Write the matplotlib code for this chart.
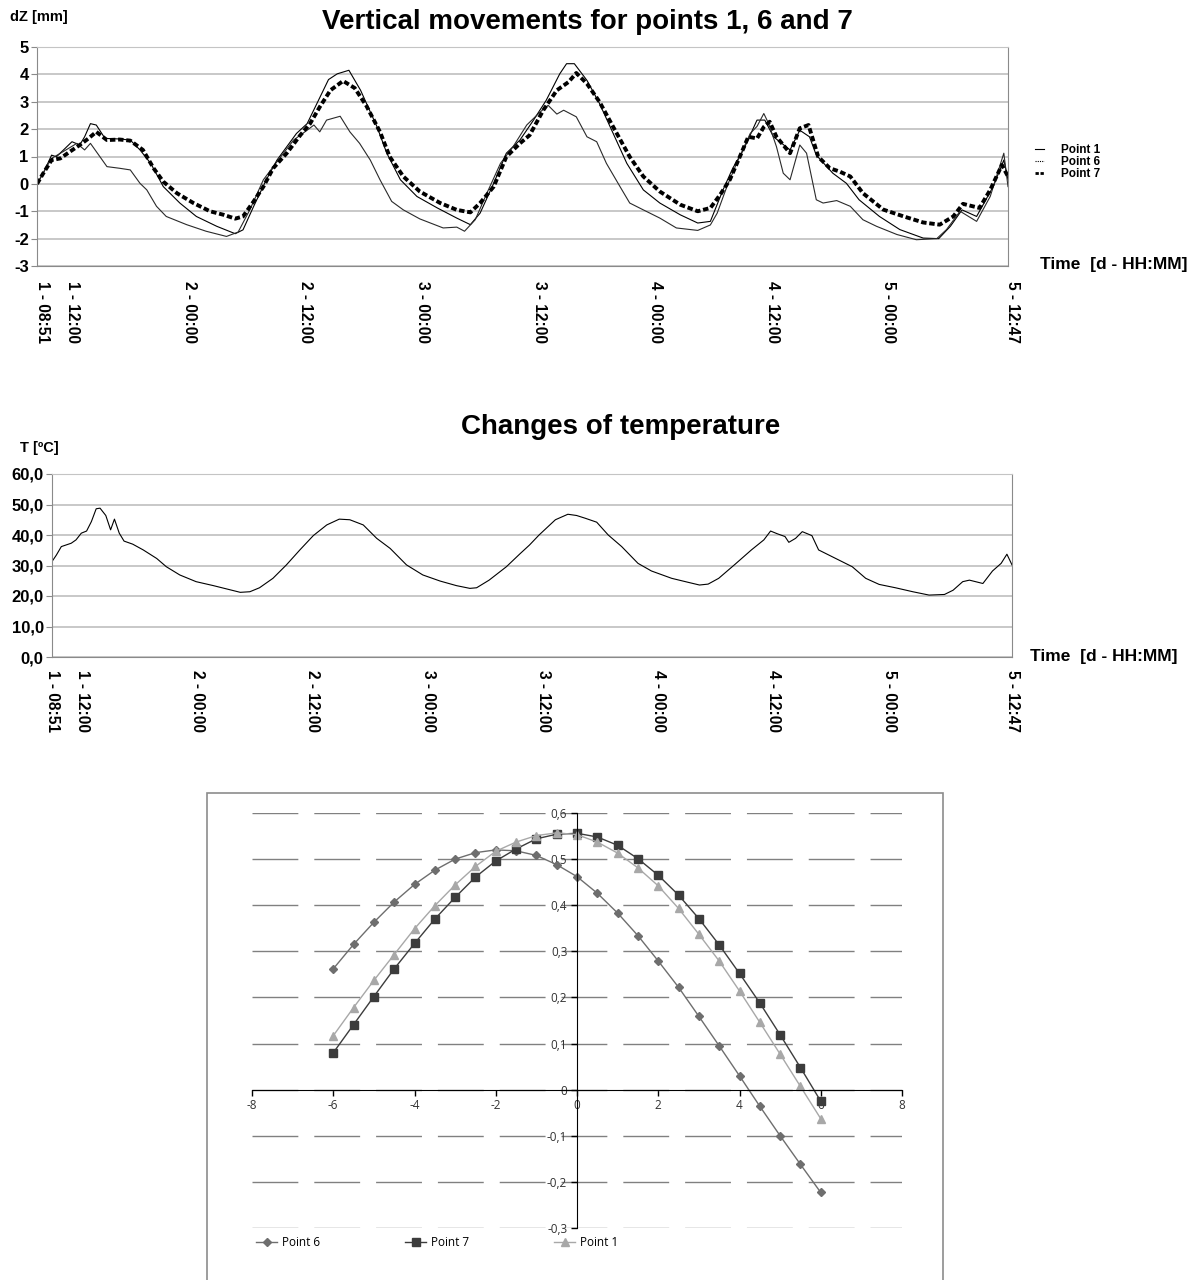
import matplotlib
matplotlib.use("Agg")
import matplotlib.pyplot as plt
from matplotlib.patches import Rectangle
from matplotlib.lines import Line2D
from matplotlib.transforms import ScaledTranslation

# ---- data: vertical movements (hours since 1 - 08:51, dZ in mm) ----
p1_t = [0, 0.65, 1.5, 2.0, 3.6, 4.4, 4.9, 5.5, 6.1, 7.0, 8.5, 9.6, 10.6, 11.7, 13.0, 14.7, 16.4, 18.5,
        20.4, 21.2, 22.3, 23.6, 24.7, 26.7, 27.8, 28.8, 30.0, 30.9, 32.1, 33.3, 34.3, 35.0, 36.0, 37.4,
        39.1, 41.2, 43.2, 44.6, 45.6, 47.0, 48.3, 49.7, 51.1, 52.4, 53.8, 54.5, 55.3, 56.6, 57.9, 59.3,
        60.7, 62.4, 64.1, 66.2, 68.0, 69.3, 70.6, 71.6, 72.7, 74.1, 74.9, 75.8, 77.5, 78.5, 79.5, 80.2,
        81.9, 83.3, 84.6, 86.7, 88.8, 91.2, 92.8, 94.0, 95.2, 96.7, 98.4, 99.5, 99.93]
p1_dz = [0, 0.39, 1.05, 0.99, 1.54, 1.42, 1.72, 2.2, 2.15, 1.66, 1.64, 1.6, 1.24, 0.75, -0.1, -0.7, -1.19, -1.55,
         -1.82, -1.68, -0.82, 0.15, 0.87, 1.84, 2.2, 2.93, 3.81, 4.02, 4.15, 3.42, 2.63, 2.08, 1.12, 0.15,
         -0.46, -0.88, -1.25, -1.49, -1.07, 0.02, 1.12, 1.6, 2.33, 3.05, 4.02, 4.39, 4.39, 3.78, 2.93, 1.84,
         0.75, -0.22, -0.7, -1.13, -1.43, -1.37, -0.22, 0.57, 1.24, 2.33, 2.33, 1.72, 1.24, 1.96, 1.72, 1.05,
         0.39, 0.02, -0.58, -1.19, -1.67, -1.98, -2.0, -1.55, -0.95, -1.19, -0.1, 0.87, 0.15]

p6_t = [0, 0.65, 1.5, 2.7, 4.1, 4.9, 5.5, 6.1, 7.2, 8.5, 9.6, 10.6, 11.3, 12.3, 13.3, 15.4, 17.4, 19.5,
        20.7, 21.9, 23.3, 24.7, 26.4, 27.8, 28.5, 29.1, 29.8, 31.2, 32.2, 33.2, 34.3, 35.3, 36.5, 37.7,
        39.4, 41.8, 43.2, 44.0, 45.1, 46.3, 47.7, 49.0, 50.4, 51.8, 52.6, 53.5, 54.2, 55.5, 56.6, 57.6,
        58.6, 60.0, 61.0, 62.4, 64.1, 65.8, 68.0, 69.3, 70.0, 71.0, 72.0, 73.4, 74.1, 74.8, 75.3, 76.1,
        76.8, 77.5, 78.5, 79.2, 80.2, 80.9, 82.3, 83.7, 85.0, 86.4, 88.5, 90.5, 92.6, 93.6, 95.0, 96.7,
        98.1, 99.5, 99.93]
p6_dz = [0, 0.41, 0.93, 1.18, 1.48, 1.24, 1.48, 1.18, 0.63, 0.57, 0.51, 0.02, -0.22, -0.82, -1.19, -1.49, -1.73, -1.92,
         -1.76, -0.95, 0.15, 0.81, 1.6, 1.96, 2.15, 1.9, 2.33, 2.47, 1.9, 1.48, 0.87, 0.15, -0.64, -0.95,
         -1.28, -1.61, -1.58, -1.73, -1.31, -0.34, 0.75, 1.36, 2.15, 2.63, 2.87, 2.55, 2.69, 2.45, 1.72, 1.54,
         0.75, -0.1, -0.7, -0.95, -1.25, -1.61, -1.7, -1.5, -1.07, -0.1, 0.75, 1.84, 2.1, 2.57, 2.2, 1.36,
         0.39, 0.15, 1.42, 1.12, -0.58, -0.7, -0.61, -0.82, -1.31, -1.55, -1.85, -2.04, -2.0, -1.67, -1.0, -1.37,
         -0.46, 1.12, -0.1]

p7_t = [0, 0.65, 1.5, 2.4, 3.4, 4.4, 5.3, 6.1, 7.2, 8.5, 9.6, 10.9, 12.0, 13.0, 14.4, 16.1, 17.8, 19.2,
        20.4, 21.2, 22.3, 23.3, 24.3, 25.7, 27.1, 28.1, 29.1, 30.2, 31.5, 32.7, 33.9, 35.3, 36.3, 37.7,
        39.4, 41.5, 43.2, 44.6, 45.6, 47.0, 48.3, 49.7, 50.7, 52.1, 53.5, 54.7, 55.5, 56.6, 57.9, 59.3,
        61.0, 62.4, 64.1, 66.2, 68.0, 69.3, 70.3, 71.3, 72.4, 73.2, 74.1, 74.8, 75.4, 76.1, 77.5, 78.5,
        79.4, 80.4, 81.6, 82.6, 83.7, 85.0, 87.1, 89.2, 91.2, 92.9, 94.3, 95.3, 97.0, 98.1, 99.3, 99.93]
p7_dz = [0, 0.39, 0.87, 0.93, 1.18, 1.42, 1.66, 1.9, 1.6, 1.62, 1.58, 1.24, 0.57, 0.08, -0.34, -0.7, -1.0, -1.13,
         -1.27, -1.19, -0.64, -0.1, 0.57, 1.12, 1.78, 2.2, 2.81, 3.42, 3.76, 3.5, 2.85, 1.9, 0.99, 0.27,
         -0.28, -0.7, -0.95, -1.04, -0.7, -0.1, 0.99, 1.48, 1.78, 2.69, 3.42, 3.72, 4.05, 3.66, 2.99, 2.08,
         0.99, 0.27, -0.28, -0.76, -1.0, -0.88, -0.4, 0.15, 1.05, 1.72, 1.66, 2.08, 2.27, 1.72, 1.12, 2.03,
         2.15, 0.99, 0.57, 0.45, 0.27, -0.34, -0.94, -1.19, -1.41, -1.49, -1.19, -0.73, -0.88, -0.22, 0.69, 0.27]

# ---- data: temperature ----
temp_t = [0, 0.45, 0.97, 2.0, 2.5, 3.05, 3.6, 4.1, 4.6, 5.0, 5.6, 6.1, 6.5, 7.0, 7.5, 8.4, 9.5, 10.9,
          11.9, 13.3, 15.0, 16.8, 18.2, 19.6, 20.6, 21.6, 23.0, 24.4, 25.8, 27.2, 28.6, 29.9, 31.0, 32.4,
          33.8, 35.2, 36.9, 38.6, 40.4, 42.1, 43.5, 44.2, 45.5, 47.3, 48.7, 49.7, 50.7, 52.4, 53.7, 54.6,
          55.5, 56.7, 57.9, 59.3, 61.0, 62.4, 64.5, 66.2, 67.4, 68.3, 69.4, 71.1, 72.8, 74.1, 74.8, 75.5,
          76.3, 76.7, 77.4, 78.1, 79.1, 79.8, 81.2, 83.3, 84.7, 86.1, 87.8, 89.6, 91.3, 92.9, 93.8, 94.8,
          95.5, 96.9, 97.9, 98.8, 99.4, 99.93]
temp_c = [31.3, 33.4, 36.2, 37.3, 38.4, 40.6, 41.3, 44.4, 48.6, 48.8, 46.4, 41.7, 45.2, 40.6, 38.0, 37.0, 35.1, 32.3,
          29.6, 26.9, 24.7, 23.4, 22.3, 21.2, 21.4, 22.7, 25.8, 30.2, 35.1, 39.8, 43.3, 45.2, 45.0, 43.3,
          38.9, 35.6, 30.2, 26.9, 24.9, 23.4, 22.5, 22.7, 25.2, 29.6, 33.8, 36.7, 40.0, 45.0, 46.8, 46.4,
          45.5, 44.2, 40.0, 36.2, 30.7, 28.2, 25.8, 24.5, 23.6, 23.9, 25.8, 30.4, 35.1, 38.4, 41.3, 40.4,
          39.5, 37.6, 38.9, 41.1, 39.8, 35.1, 32.9, 29.6, 25.8, 23.8, 22.7, 21.4, 20.3, 20.5, 21.9, 24.7,
          25.2, 24.1, 28.2, 30.7, 33.7, 30.2]

time_ticks = [0, 3.15, 15.15, 27.15, 39.15, 51.15, 63.15, 75.15, 87.15, 99.93]
time_labels = ["1 - 08:51", "1 - 12:00", "2 - 00:00", "2 - 12:00", "3 - 00:00",
               "3 - 12:00", "4 - 00:00", "4 - 12:00", "5 - 00:00", "5 - 12:47"]

# ---- data: bottom chart ----
pos_x = [-6, -5.5, -5, -4.5, -4, -3.5, -3, -2.5, -2, -1.5, -1, -0.5, 0,
         0.5, 1, 1.5, 2, 2.5, 3, 3.5, 4, 4.5, 5, 5.5, 6]
pt6 = [0.262, 0.315, 0.363, 0.407, 0.445, 0.476, 0.500, 0.514, 0.520, 0.518, 0.508, 0.488, 0.462,
       0.426, 0.383, 0.334, 0.279, 0.222, 0.159, 0.095, 0.030, -0.036, -0.100, -0.162, -0.223]
pt7 = [0.080, 0.141, 0.202, 0.262, 0.317, 0.370, 0.417, 0.461, 0.496, 0.522, 0.544, 0.554, 0.556,
       0.548, 0.530, 0.501, 0.465, 0.422, 0.371, 0.314, 0.252, 0.188, 0.119, 0.048, -0.025]
pt1 = [0.117, 0.178, 0.237, 0.293, 0.349, 0.399, 0.444, 0.484, 0.517, 0.537, 0.551, 0.557, 0.553,
       0.537, 0.513, 0.481, 0.442, 0.393, 0.337, 0.279, 0.214, 0.146, 0.077, 0.007, -0.063]

W, H = 1197, 1280
fig = plt.figure(figsize=(W / 100, H / 100), dpi=100)
plt.rcParams['font.family'] = ['Liberation Sans', 'DejaVu Sans']
bold = dict(fontweight='bold')


def style_time_axis(ax, ymin, ymax, yticks, ylabels, shift_px, pad):
    ax.set_ylim(ymin, ymax)
    ax.set_xlim(0, 99.93)
    ax.set_yticks(yticks)
    ax.set_yticklabels(ylabels, fontsize=12, **bold)
    ax.yaxis.grid(True, color='#c4c4c4', lw=1.3)
    ax.set_axisbelow(True)
    for s in ['left', 'right', 'bottom']:
        ax.spines[s].set_color('#8a8a8a')
    ax.spines['top'].set_color('#c4c4c4')
    ax.tick_params(axis='y', length=4, color='#8a8a8a', pad=2)
    ax.set_xticks(time_ticks)
    ax.set_xticklabels(time_labels, rotation=-90, fontsize=11.2, va='top', ha='center', **bold)
    ax.tick_params(axis='x', length=0, pad=pad)
    for lab in ax.get_xticklabels():
        lab.set_transform(lab.get_transform() + ScaledTranslation(shift_px / 100, 0, fig.dpi_scale_trans))


# top chart
ax1 = fig.add_axes([37 / W, 1 - 266 / H, 971 / W, 219 / H])
ax1.plot(p1_t, p1_dz, color='black', lw=0.8)
ax1.plot(p6_t, p6_dz, color='#2a2a2a', lw=0.8)
ax1.plot(p7_t, p7_dz, color='black', lw=2.8, linestyle=(0, (1.4, 0.7)))
style_time_axis(ax1, -3, 5, range(-3, 6), [str(v) for v in range(-3, 6)], 5, 11)
fig.text(587 / W, 1 - 22 / H, "Vertical movements for points 1, 6 and 7", ha='center', va='center',
         fontsize=20, **bold)
fig.text(10 / W, 1 - 17 / H, "dZ [mm]", ha='left', va='center', fontsize=10.5, **bold)
fig.text(1040 / W, 1 - 265 / H, "Time  [d - HH:MM]", ha='left', va='center', fontsize=12.5, **bold)
leg_handles = [Line2D([], [], color='black', lw=0.8),
               Line2D([], [], color='black', lw=0.8, linestyle=(0, (1, 1))),
               Line2D([], [], color='black', lw=2, linestyle=(0, (1.2, 0.6)))]
ax1.legend(leg_handles, ["Point 1", "Point 6", "Point 7"], loc='center left',
           bbox_to_anchor=(1024 / W, 1 - 162 / H), bbox_transform=fig.transFigure, frameon=False,
           handlelength=0.8, handletextpad=1.4, labelspacing=0.0,
           prop=dict(size=8.5, weight='bold'))

# middle chart
ax2 = fig.add_axes([52 / W, 1 - 657 / H, 960 / W, 183 / H])
ax2.plot(temp_t, temp_c, color='black', lw=0.8)
tvals = [0, 10, 20, 30, 40, 50, 60]
style_time_axis(ax2, 0, 60, tvals, [f"{v:.1f}".replace('.', ',') for v in tvals], 0, 9)
fig.text(621 / W, 1 - 427 / H, "Changes of temperature", ha='center', va='center', fontsize=20, **bold)
fig.text(20 / W, 1 - 448 / H, "T [ºC]", ha='left', va='center', fontsize=10.5, **bold)
fig.text(1030 / W, 1 - 657 / H, "Time  [d - HH:MM]", ha='left', va='center', fontsize=12.5, **bold)

# bottom chart
fig.patches.append(Rectangle((207 / W, -0.01), (943 - 207) / W, 1 - 793 / H + 0.01,
                             transform=fig.transFigure, fill=False, edgecolor='#8c8c8c', lw=1.2))
ax3 = fig.add_axes([252 / W, 1 - 1228 / H, 650 / W, 415 / H])
ax3.set_xlim(-8, 8)
ax3.set_ylim(-0.3, 0.6)
ax3.plot(pos_x, pt6, color='#6e6e6e', lw=1.0, marker='D', ms=4, label='Point 6')
ax3.plot(pos_x, pt7, color='#3c3c3c', lw=1.0, marker='s', ms=6, label='Point 7')
ax3.plot(pos_x, pt1, color='#a8a8a8', lw=1.0, marker='^', ms=6, label='Point 1')
for s in ['top', 'right']:
    ax3.spines[s].set_visible(False)
ax3.spines['left'].set_position(('data', 0))
ax3.spines['bottom'].set_position(('data', 0))
ax3.set_xticks(range(-8, 9, 2))
yv = [-0.3, -0.2, -0.1, 0, 0.1, 0.2, 0.3, 0.4, 0.5, 0.6]
ax3.set_yticks(yv)
ax3.set_yticklabels(["0" if v == 0 else f"{v:.1f}".replace('.', ',') for v in yv],
                    fontsize=8.5, family='Open Sans', color='#333333')
ax3.set_xticklabels([str(v) for v in range(-8, 9, 2)], fontsize=8.5, family='Open Sans', color='#333333')
ax3.tick_params(length=4, width=1, direction='out', pad=3)
ax3.yaxis.grid(True, color='#808080', lw=1, linestyle=(0, (33, 11.5)))
ax3.set_axisbelow(True)
ax3.legend(loc='center left', ncol=3, bbox_to_anchor=(250 / W, 1 - 1243 / H), bbox_transform=fig.transFigure,
           frameon=False, handlelength=1.8, handletextpad=0.4, columnspacing=7.2, borderpad=0.0,
           prop=dict(family='Open Sans', size=8.5))

fig.savefig("out.png", dpi=100)
